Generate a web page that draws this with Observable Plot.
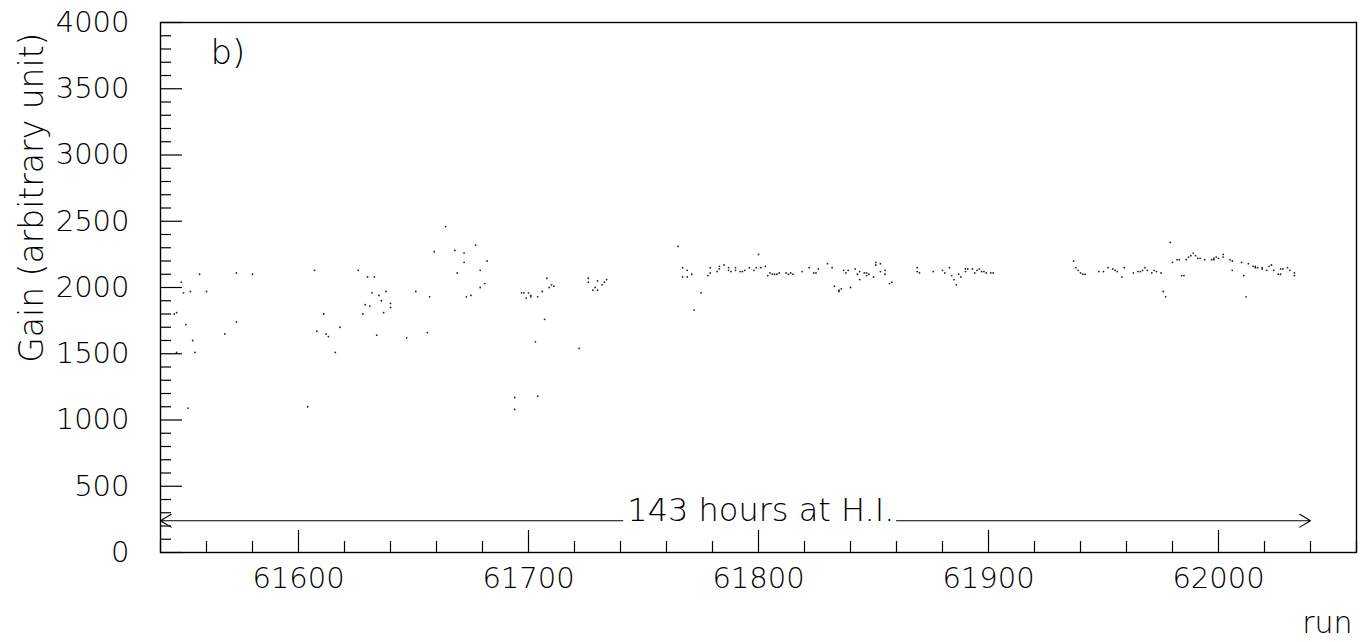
<!DOCTYPE html>
<html><head><meta charset="utf-8">
<script src="https://cdn.jsdelivr.net/npm/d3@7"></script>
<script src="https://cdn.jsdelivr.net/npm/@observablehq/plot@0.6"></script>
<style>
html,body{margin:0;padding:0;background:#fff;}
svg{display:block}
</style></head><body><div id="chart"></div>
<script>
// ---- data (run number, gain) ----
const runs = [
61546,61547,61547,61549,61550,61551,61552,61553,61554,61555,61557,61560,61568,61573,61573,61580,
61604,61607,61608,61611,61612,61613,61616,61618,61626,61628,61629,61630,61631,61632,61633,61634,
61635,61636,61637,61638,61640,61640,61647,61651,61656,61657,61659,61664,61668,61669,61672,61672,
61673,61675,61677,61679,61679,61681,61682,61694,61694,61697,61698,61699,61700,61701,61701,61703,
61704,61704,61706,61707,61708,61709,61710,61711,61722,61726,61726,61728,61729,61730,61730,61732,
61733,61734,61765,61767,61767,61769,61769,61771,61772,61775,61778,61779,61779,61782,61783,61783,
61785,61787,61787,61788,61790,61790,61792,61793,61794,61796,61798,61799,61800,61801,61803,61804,
61805,61806,61807,61808,61809,61812,61813,61814,61815,61819,61822,61824,61825,61826,61830,61832,
61833,61835,61835,61836,61837,61838,61839,61840,61842,61843,61844,61844,61846,61847,61847,61848,
61850,61851,61851,61853,61853,61855,61855,61857,61858,61869,61869,61870,61876,61880,61881,61883,
61884,61885,61886,61887,61888,61890,61890,61891,61893,61894,61895,61896,61897,61898,61899,61901,
61902,61937,61938,61939,61940,61941,61942,61948,61950,61952,61954,61955,61956,61958,61959,61963,
61965,61966,61967,61968,61969,61971,61972,61973,61975,61976,61977,61979,61980,61982,61983,61984,
61985,61986,61987,61988,61989,61990,61991,61992,61994,61997,61998,61998,61999,62000,62002,62002,
62005,62006,62006,62010,62011,62012,62013,62015,62016,62016,62017,62019,62019,62021,62022,62023,
62024,62026,62027,62027,62028,62030,62031,62033,62033
];
const gains = [
1800,1810,1510,2040,1960,1720,1090,1970,1600,1510,2100,1970,1650,2110,1740,2100,
1100,2130,1670,1800,1650,1630,1510,1700,2130,1800,1870,2080,1860,1960,2080,1640,
1940,1900,1810,1970,1880,1850,1620,1970,1660,1930,2270,2460,2280,2110,2190,2260,
1930,1940,2320,2000,2130,2030,2200,1170,1080,1960,1960,1920,1960,1930,1940,1590,
1930,1180,1970,1760,2070,2000,2020,2010,1540,2040,2070,1980,2000,2050,1980,2020,
2040,2060,2310,2150,2080,2130,2080,2100,1830,1960,2090,2150,2110,2120,2140,2160,
2170,2130,2150,2120,2130,2150,2120,2120,2130,2150,2130,2150,2250,2150,2160,2090,
2110,2100,2100,2100,2110,2110,2100,2110,2100,2120,2150,2110,2110,2140,2180,2150,
2010,1980,1970,1990,2130,2110,2130,2000,2140,2100,2060,2120,2110,2090,2110,2100,
2080,2190,2170,2180,2120,2100,2130,2030,2040,2150,2120,2110,2120,2130,2110,2150,
2090,2060,2020,2100,2080,2140,2120,2140,2140,2110,2130,2140,2120,2120,2110,2110,
2110,2200,2150,2130,2110,2100,2100,2120,2120,2150,2140,2130,2120,2080,2150,2110,
2120,2120,2130,2150,2130,2110,2130,2120,2110,1970,1930,2340,2190,2210,2210,2090,
2090,2210,2230,2240,2260,2240,2220,2220,2210,2210,2220,2210,2230,2220,2250,2230,
2210,2200,2130,2190,2090,1930,2180,2160,2150,2160,2150,2150,2140,2130,2160,2170,
2130,2100,2100,2140,2140,2150,2130,2090,2110
];

// ---- axes / tick values ----
const xDomain = [61540, 62060];
const yDomain = [0, 4000];
const xMajorTicks = [61600, 61700, 61800, 61900, 62000];
const xMinorTicks = [61540,61560,61580,61620,61640,61660,61680,61720,61740,61760,61780,
                     61820,61840,61860,61880,61920,61940,61960,61980,62020,62040,62060];
const yMajorTicks = [0, 500, 1000, 1500, 2000, 2500, 3000, 3500, 4000];
const yMinorTicks = [100,200,300,400,600,700,800,900,1100,1200,1300,1400,1600,1700,1800,1900,
                     2100,2200,2300,2400,2600,2700,2800,2900,3100,3200,3300,3400,3600,3700,3800,3900];

// ---- annotation ----
const yTitle = "Gain (arbitrary unit)";
const xTitle = "run";
const panelLabel = "b)";
const noteText = "143 hours at H.I.";
const noteRun = 61801;
const arrowLevel = 240;
const arrowFrom = [61741, 61860];   // ends of the text gap
const arrowTo = [61540, 62040];     // arrow tips

const data = runs.map((r, i) => ({run: r, gain: gains[i]}));
const arrows = arrowFrom.map((a, i) => ({x1: a, x2: arrowTo[i], y: arrowLevel}));

const W = 1365, H = 642;
const mL = 160, mR = 9, mT = 22, mB = 90;
const frameW = W - mL - mR, frameH = H - mT - mB;
const FONT = "'DejaVu Sans', sans-serif";

const chart = Plot.plot({
  width: W, height: H,
  marginLeft: mL, marginRight: mR, marginTop: mT, marginBottom: mB,
  style: {fontFamily: FONT, fontWeight: 200, background: "#fff", color: "#000"},
  x: {domain: xDomain, label: null},
  y: {domain: yDomain, label: null},
  marks: [
    Plot.frame({stroke: "#000", strokeWidth: 1.4}),
    Plot.tickX(xMajorTicks, {x: d => d, insetTop: frameH - 22, stroke: "#000", strokeWidth: 1.2}),
    Plot.tickX(xMinorTicks, {x: d => d, insetTop: frameH - 11, stroke: "#000", strokeWidth: 1.2}),
    Plot.tickY(yMajorTicks, {y: d => d, insetRight: frameW - 22, stroke: "#000", strokeWidth: 1.2}),
    Plot.tickY(yMinorTicks, {y: d => d, insetRight: frameW - 11, stroke: "#000", strokeWidth: 1.2}),
    Plot.axisX(xMajorTicks, {tickSize: 0, tickPadding: 15, tickFormat: d => String(d), fontSize: 29, label: null}),
    Plot.axisY(yMajorTicks, {tickSize: 0, tickPadding: 31, tickFormat: d => String(d), fontSize: 29, label: null}),
    Plot.dot(data, {x: "run", y: "gain", r: 0.9, fill: "#222", stroke: null}),
    Plot.arrow(arrows, {x1: "x1", x2: "x2", y1: "y", y2: "y", stroke: "#000", strokeWidth: 1.1, headLength: 17, headAngle: 62}),
    Plot.text([noteText], {x: noteRun, y: arrowLevel, text: d => d, fontSize: 32, lineAnchor: "bottom", textAnchor: "middle", fill: "#000"}),
    Plot.text([panelLabel], {frameAnchor: "top-left", text: d => d, dx: 50, dy: 41, fontSize: 34, lineAnchor: "bottom", textAnchor: "start", fill: "#000"}),
    Plot.text([yTitle], {frameAnchor: "top-left", text: d => d, rotate: -90, dx: -128, dy: 10, fontSize: 33, textAnchor: "end", lineAnchor: "middle", fill: "#000"}),
    Plot.text([xTitle], {frameAnchor: "bottom-right", text: d => d, dx: -4, dy: 80, fontSize: 30, textAnchor: "end", lineAnchor: "bottom", fill: "#000"})
  ]
});
document.getElementById("chart").appendChild(chart);
</script>
</body></html>
